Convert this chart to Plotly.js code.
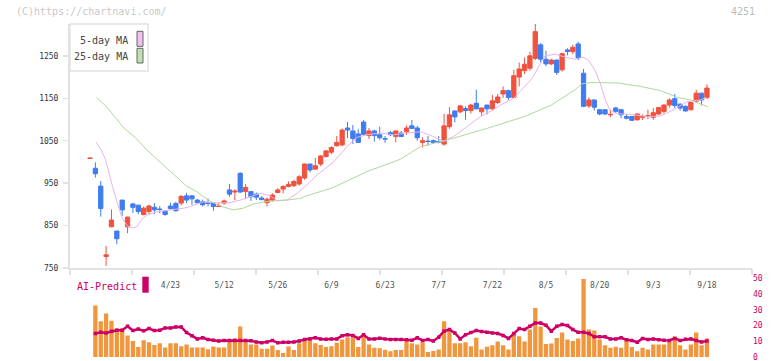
<!DOCTYPE html>
<html><head><meta charset="utf-8">
<script src="https://cdn.plot.ly/plotly-3.0.1.min.js"></script>
<style>html,body{margin:0;padding:0;background:#fff}#chart{width:772px;height:361px}</style>
</head><body><div id="chart"></div>
<script>
// tick labels (trading-day index -> label)
const dateIdx = [15,25,35,45,55,65,75,85,95,105,115];
const dateLbl = ["4/23","5/12","5/26","6/9","6/23","7/7","7/22","8/5","8/20","9/3","9/18"];

// daily OHLC (index 0 = first trading day shown)
const open = [1008,985,943,777,847,837,910,847,901,898, 876,883,893,889,884,896,902,903,920,920, 910,906,904,903,895,903,934,929,973,930, 930,924,915,904,910,928,936,942,944,948, 962,995,983,995,1013,1023,1038,1040,1080,1073, 1066,1094,1062,1073,1064,1055,1069,1060,1068,1071, 1085,1080,1046,1049,1050,1048,1042,1083,1120,1118, 1126,1121,1138,1118,1134,1125,1140,1160,1168,1152, 1200,1215,1221,1244,1276,1242,1231,1240,1217,1264, 1260,1278,1209,1132,1146,1123,1123,1111,1127,1123, 1107,1107,1099,1105,1107,1105,1113,1119,1134,1149, 1136,1131,1123,1143,1162,1152];
const high = [1009,999,955,802,888,838,911,871,903,899, 895,899,903,896,886,904,906,921,927,921, 913,911,914,904,905,911,948,936,976,948, 931,928,919,916,926,938,945,954,958,969, 996,996,1009,1016,1028,1037,1061,1079,1094,1087, 1077,1099,1080,1076,1083,1061,1073,1074,1073,1086, 1099,1085,1058,1061,1053,1061,1113,1129,1121,1134, 1131,1137,1170,1128,1135,1158,1160,1178,1170,1217, 1234,1246,1260,1325,1280,1262,1243,1241,1257,1268, 1276,1283,1219,1152,1147,1125,1124,1123,1130,1125, 1112,1108,1114,1112,1123,1127,1130,1136,1150,1160, 1138,1133,1142,1170,1163,1183];
const low = [1008,963,871,755,846,806,873,832,880,877, 874,877,877,879,873,887,883,898,903,899, 902,895,895,885,894,899,918,910,927,912, 908,910,910,895,907,926,926,940,941,944, 958,975,983,990,1010,1018,1036,1037,1056,1042, 1045,1061,1054,1048,1052,1045,1061,1046,1059,1064, 1078,1050,1034,1038,1043,1044,1038,1078,1093,1115, 1099,1114,1124,1108,1112,1122,1136,1151,1146,1150, 1178,1207,1215,1240,1235,1225,1228,1205,1213,1251, 1254,1240,1129,1127,1121,1110,1111,1105,1116,1103, 1100,1097,1098,1099,1101,1099,1110,1114,1128,1127, 1121,1119,1121,1140,1133,1148];
const close = [1009,972,890,781,863,819,887,870,893,883, 891,896,887,888,876,890,885,919,910,913, 904,899,902,895,896,908,924,931,929,940, 918,917,911,912,922,934,942,947,954,965, 995,981,991,1014,1026,1034,1046,1075,1075,1055, 1046,1065,1073,1062,1057,1054,1064,1073,1060,1080, 1079,1057,1050,1048,1046,1047,1085,1111,1106,1132, 1121,1134,1125,1127,1125,1144,1153,1168,1152,1203, 1219,1230,1250,1307,1242,1231,1240,1211,1255,1260, 1270,1245,1131,1146,1129,1113,1113,1112,1119,1111, 1103,1098,1113,1107,1109,1116,1128,1134,1146,1133, 1127,1120,1140,1162,1146,1174];

// moving averages (index position, value)
const ma5Idx = [1.1,2.1,2.9,3.5,4.2,5.1,6.0,7.0,8.1,8.8,9.8,10.7,12.6,15.1,17.5,18.7,21.1,23.6,26.1,28,29.9,31.7,33.6,34.8,36.7,38.6,40.1,42.3,45.4,47.9,49.8,51.6,54.1,56.6,59.1,61.6,64,65.9,67.8,70.3,72.8,75.2,76.5,79,82.4,84.8,86.7,88.5,90.4,91.9,92.9,94.1,95.1,96,96.9,97.9,99,101.4,103.9,106.3,108.8,111.3,113.8,114.9];
const ma5Val = [1047,1028,1005,973,942,903,867,849,844,849,867,875,883,887,891,895,906,903,904,910,918,926,920,909,910,926,942,969,1000,1036,1058,1064,1068,1064,1068,1071,1060,1048,1060,1083,1107,1123,1134,1150,1197,1250,1254,1247,1242,1247,1240,1217,1186,1148,1123,1115,1113,1111,1107,1108,1123,1142,1146,1152];
const ma25Idx = [1.2,3.1,6.3,8.4,10.6,14.3,18,19.9,21.8,24.3,26.7,28.6,30.5,33,36.7,39.2,40.4,42.9,45.4,51.6,57.8,61.6,67.8,74,77.7,81,86,88.9,90.4,91.7,93.5,98.3,102.6,106.3,109.5,111.9,113.8,115.2];
const ma25Val = [1152,1130,1080,1058,1028,985,943,930,912,896,887,891,901,907,910,914,920,930,940,977,1006,1036,1056,1079,1093,1107,1134,1158,1170,1184,1187,1186,1178,1168,1152,1146,1137,1130];

// volume and AI-Predict (start at index 1)
const volume = [32.7,22.7,27.7,23.1,18.1,18.1,13.7,10.1,6.3,10.7, 9.4,7.6,8.8,6.1,8.8,8.8,6.9,8.0,6.1,6.1, 6.1,5.0,6.7,6.1,6.1,10.1,11.8,19.3,10.5,8.0, 8.0,5.3,5.3,7.3,4.4,2.5,6.7,4.4,8.8,11.1, 10.7,8.8,7.6,6.3,6.9,9.0,11.1,12.6,12.6,6.3, 12.8,8.0,5.9,5.5,4.6,3.6,4.4,4.4,10.7,8.8, 8.0,9.3,3.2,3.8,4.8,22.7,18.1,8.8,8.8,9.3, 6.9,12.2,4.8,6.5,7.4,9.9,7.4,4.8,14.9,13.2, 9.9,17.4,31.1,19.3,8.2,8.6,12.0,15.6,11.1,10.1, 11.8,49.6,17.4,16.8,11.1,7.4,5.9,6.5,5.9,12.0, 6.3,3.6,5.9,4.8,8.0,8.0,8.0,9.5,13.0,7.4, 4.8,8.0,15.6,7.4,11.8];
const aiPredict = [14.9,15.7,15.3,16.4,17.0,17.0,19.5,16.8,17.8,16.6, 18.1,16.8,17.0,18.5,18.5,19.1,19.1,15.5,13.5,11.5, 12.2,11.1,10.7,10.1,10.5,10.5,10.5,10.5,10.5,10.3, 9.5,9.0,9.6,10.5,9.0,9.4,9.4,9.6,10.1,11.1, 11.5,12.2,11.4,11.2,11.5,11.5,13.5,14.1,13.7,11.8, 14.1,11.5,11.5,11.9,11.5,11.1,11.1,11.1,11.0,10.7, 12.2,10.5,11.1,10.1,12.6,16.4,17.4,15.3,11.5,14.1, 15.5,16.8,16.2,15.7,15.3,14.9,13.7,11.8,14.9,18.1, 17.4,19.5,21.6,21.6,20.1,16.4,19.5,20.6,20.0,17.4, 15.7,15.7,15.0,12.8,12.8,12.8,11.5,11.5,12.2,11.0, 10.5,9.4,11.8,11.1,11.5,11.0,10.7,10.5,11.8,10.5, 11.2,11.5,10.5,9.6,10.1];
const volTicks = [0,10,20,30,40,50];
const priceTicks = [750,850,950,1050,1150,1250];

const candleX = open.map((_, i) => i);
const subX = volume.map((_, i) => i + 1);

const FONT = "DejaVu Sans Mono, Liberation Mono, monospace";
const XR = [-3.73, 123.4];

const traces = [
  {type:'bar', x:subX, y:volume, xaxis:'x', yaxis:'y2', marker:{color:'#f0963c'}, hoverinfo:'skip'},
  {type:'scatter', mode:'lines+markers', x:subX, y:aiPredict, xaxis:'x', yaxis:'y2',
   line:{color:'#cc0066', width:2.5}, marker:{color:'#cc0066', size:3.5, symbol:'square'}, hoverinfo:'skip'},
  {type:'scatter', mode:'lines', x:ma25Idx, y:ma25Val, xaxis:'x2', yaxis:'y', line:{color:'#b0d8a0', width:1}, hoverinfo:'skip'},
  {type:'scatter', mode:'lines', x:ma5Idx, y:ma5Val, xaxis:'x', yaxis:'y', line:{color:'#e8b4e8', width:1}, hoverinfo:'skip'},
  {type:'candlestick', x:candleX, open:open, high:high, low:low, close:close, xaxis:'x', yaxis:'y',
   whiskerwidth:0,
   increasing:{line:{color:'#f0523e', width:1}, fillcolor:'#f0523e'},
   decreasing:{line:{color:'#407cf0', width:1}, fillcolor:'#407cf0'}, hoverinfo:'skip'}
];

const BOT = 357;
const px = v => (v - 70) / 682;
const py = v => (BOT - v) / (BOT - 24);

const layout = {
  width:772, height:361,
  margin:{l:70, r:20, t:24, b:361 - BOT},
  paper_bgcolor:'#fff', plot_bgcolor:'#fff',
  showlegend:false, bargap:0.2, boxgap:0.2, boxgroupgap:0,
  font:{family:FONT, size:10, color:'#444'},
  xaxis:{range:XR, anchor:'y', showgrid:false, zeroline:false, showline:true, linecolor:'#e2e2e2', linewidth:2,
         tickmode:'array', tickvals:dateIdx, ticktext:dateLbl, ticks:'', ticklabelstandoff:8,
         tickfont:{family:FONT, size:8, color:'#555'}, rangeslider:{visible:false}, fixedrange:true},
  xaxis2:{range:XR, overlaying:'x', anchor:'y', side:'bottom', showgrid:false, zeroline:false, showline:false,
          tickmode:'linear', tick0:-3.73, dtick:11.557, ticks:'outside', ticklen:6, tickwidth:2, tickcolor:'#e2e2e2',
          showticklabels:false, fixedrange:true},
  yaxis:{domain:[py(268), 1], range:[750, 1325], showgrid:false, zeroline:false, showline:true, linecolor:'#e2e2e2', linewidth:2,
         tickmode:'array', tickvals:priceTicks, ticks:'outside', ticklen:5, tickwidth:1.5, tickcolor:'#e2e2e2',
         tickfont:{family:FONT, size:8, color:'#333'}, ticklabelstandoff:3, fixedrange:true},
  yaxis2:{domain:[0, py(278.3)], range:[0, 50], anchor:'x', side:'right', showgrid:false, zeroline:false, showline:false,
          tickmode:'array', tickvals:volTicks, ticktext:volTicks.map(String), ticks:'', ticklabeloverflow:'allow',
          tickfont:{family:FONT, size:8, color:'#cc0066'}, fixedrange:true},
  shapes:[
    {type:'rect', xref:'paper', yref:'paper', x0:0, x1:px(148), y0:py(71), y1:py(24), line:{color:'#e2e2e2', width:1.5}, fillcolor:'#fff', layer:'above'},
    {type:'rect', xref:'paper', yref:'paper', x0:px(137), x1:px(143), y0:py(46.3), y1:py(31.3), line:{color:'#666', width:1}, fillcolor:'#f0c0f0', layer:'above'},
    {type:'rect', xref:'paper', yref:'paper', x0:px(137), x1:px(143), y0:py(63), y1:py(48.3), line:{color:'#666', width:1}, fillcolor:'#c0e0b0', layer:'above'},
    {type:'rect', xref:'paper', yref:'paper', x0:px(142.3), x1:px(148.7), y0:py(292.7), y1:py(276.7), line:{width:0}, fillcolor:'#cc0066'}
  ],
  annotations:[
    {xref:'paper', yref:'paper', x:px(14), y:py(12), xanchor:'left', yanchor:'middle', showarrow:false, text:'(C)https://chartnavi.com/', font:{family:FONT, size:10, color:'#c8c8c8'}},
    {xref:'paper', yref:'paper', x:px(757), y:py(12), xanchor:'right', yanchor:'middle', showarrow:false, text:'4251', font:{family:FONT, size:10, color:'#bbb'}},
    {xref:'paper', yref:'paper', x:px(130), y:py(40.7), xanchor:'right', yanchor:'middle', showarrow:false, text:'5-day MA', font:{family:FONT, size:10, color:'#444'}},
    {xref:'paper', yref:'paper', x:px(130), y:py(57), xanchor:'right', yanchor:'middle', showarrow:false, text:'25-day MA', font:{family:FONT, size:10, color:'#444'}},
    {xref:'paper', yref:'paper', x:px(74.5), y:py(286), xanchor:'left', yanchor:'middle', showarrow:false, text:'AI-Predict', font:{family:FONT, size:10, color:'#cc0066'}}
  ]
};

Plotly.newPlot('chart', traces, layout, {displayModeBar:false, staticPlot:true});
</script></body></html>
